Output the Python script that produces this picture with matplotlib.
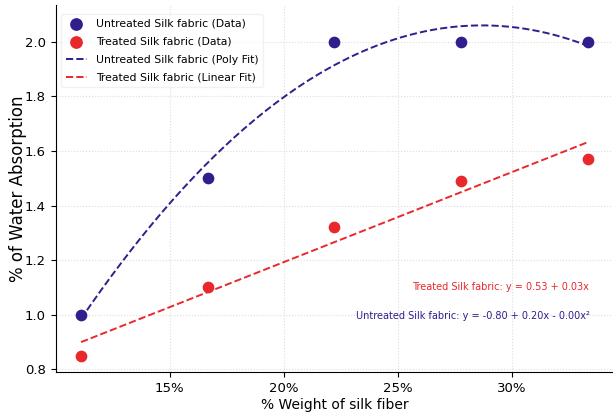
import numpy as np
import matplotlib.pyplot as plt
from matplotlib.ticker import FuncFormatter

# Data
weight_pct = [100 / 9, 100 / 6, 200 / 9, 250 / 9, 100 / 3]
untreated = [1.0, 1.5, 2.0, 2.0, 2.0]
treated = [0.85, 1.10, 1.32, 1.49, 1.57]

navy = '#2e1f8c'
red = '#e8282b'

x = np.array(weight_pct)
c_un = np.polyfit(x, untreated, 2)
c_tr = np.polyfit(x, treated, 1)
xs = np.linspace(x.min(), x.max(), 200)

fig = plt.figure(figsize=(6.13, 4.13), dpi=100)
ax = fig.add_axes([0.091, 0.099, 0.909, 0.889])

ax.scatter(x, untreated, s=55, color=navy, label="Untreated Silk fabric (Data)", zorder=3)
ax.scatter(x, treated, s=55, color=red, label="Treated Silk fabric (Data)", zorder=3)
ax.plot(xs, np.polyval(c_un, xs), '--', color=navy, lw=1.4, label="Untreated Silk fabric (Poly Fit)")
ax.plot(xs, np.polyval(c_tr, xs), '--', color=red, lw=1.4, label="Treated Silk fabric (Linear Fit)")

ax.text(0.957, 0.232, f"Treated Silk fabric: y = {c_tr[1]:.2f} + {c_tr[0]:.2f}x",
        transform=ax.transAxes, ha='right', va='center', color=red, fontsize=7)
ax.text(0.958, 0.152,
        f"Untreated Silk fabric: y = {c_un[2]:.2f} + {c_un[1]:.2f}x - {abs(c_un[0]):.2f}x\u00b2",
        transform=ax.transAxes, ha='right', va='center', color=navy, fontsize=7)

ax.set_xlim(10.0, 34.45)
ax.set_ylim(0.79, 2.135)
ax.set_xticks([15, 20, 25, 30])
ax.xaxis.set_major_formatter(FuncFormatter(lambda v, p: f"{v:.0f}%"))
ax.set_yticks([0.8, 1.0, 1.2, 1.4, 1.6, 1.8, 2.0])
ax.tick_params(labelsize=9.5)
ax.set_xlabel("% Weight of silk fiber", fontsize=10, labelpad=2)
ax.set_ylabel("% of Water Absorption", fontsize=12, labelpad=-1.5)
ax.grid(True, linestyle=':', color='#dddddd', lw=0.8)
ax.spines['top'].set_visible(False)
ax.spines['right'].set_visible(False)
ax.legend(loc='upper left', bbox_to_anchor=(0.0, 0.99), fontsize=7.8, framealpha=0.8,
          edgecolor='#eeeeee', labelspacing=0.75, markerscale=1.1)

fig.savefig("out.png")
